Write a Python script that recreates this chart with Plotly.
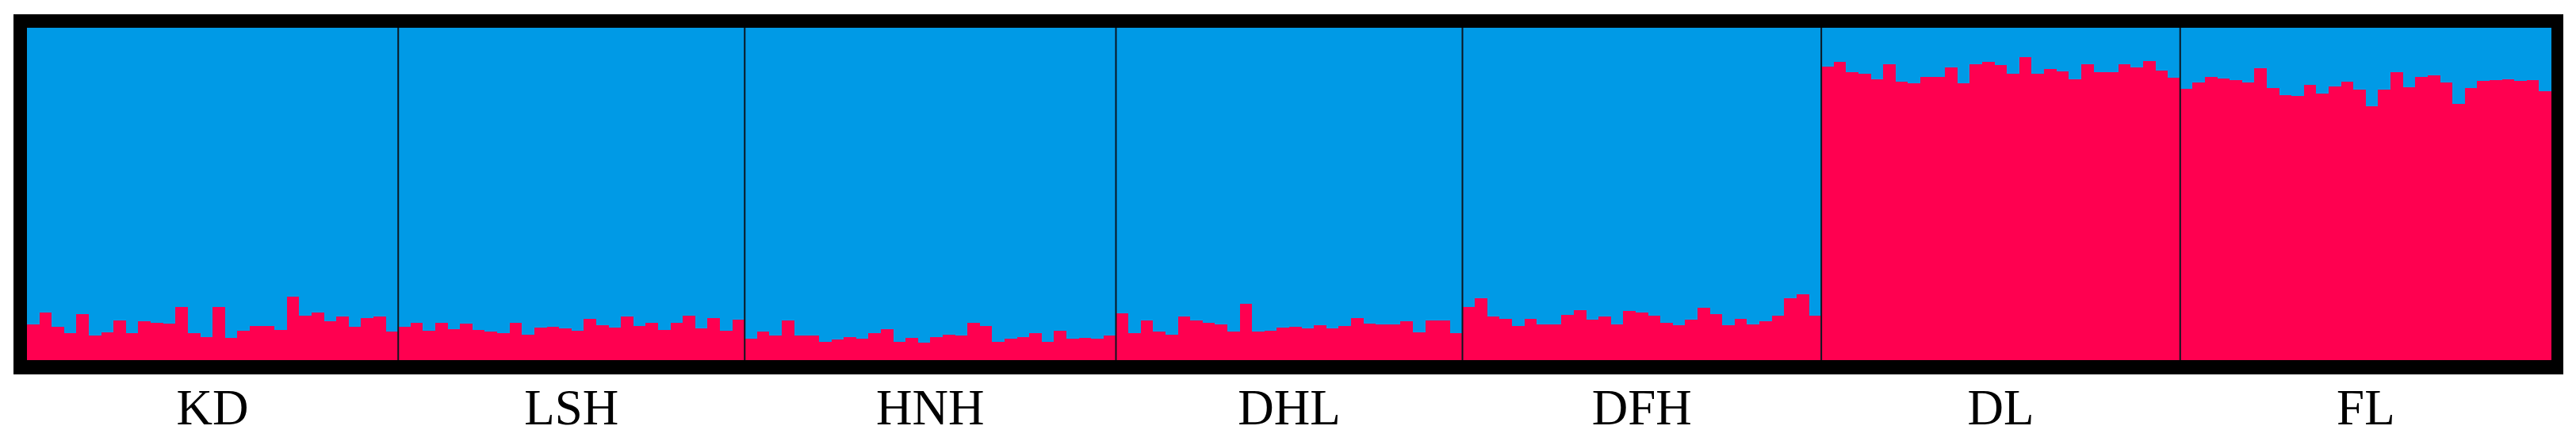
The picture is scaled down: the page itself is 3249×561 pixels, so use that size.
import plotly.graph_objects as go

populations = ["KD", "LSH", "HNH", "DHL", "DFH", "DL", "FL"]

# proportion of cluster 2 (red) per individual
red_KD = [0.107, 0.143, 0.101, 0.080, 0.139, 0.075, 0.083, 0.119, 0.081, 0.117,
          0.113, 0.109, 0.161, 0.081, 0.069, 0.159, 0.067, 0.089, 0.103, 0.103,
          0.091, 0.190, 0.133, 0.143, 0.117, 0.131, 0.101, 0.127, 0.131, 0.085]
red_LSH = [0.101, 0.113, 0.089, 0.111, 0.093, 0.109, 0.091, 0.085, 0.080, 0.113,
           0.077, 0.097, 0.100, 0.095, 0.088, 0.125, 0.105, 0.097, 0.131, 0.103,
           0.111, 0.091, 0.111, 0.133, 0.095, 0.126, 0.089, 0.121]
red_HNH = [0.065, 0.085, 0.075, 0.119, 0.073, 0.073, 0.055, 0.063, 0.070, 0.065,
           0.081, 0.093, 0.056, 0.067, 0.053, 0.069, 0.077, 0.075, 0.111, 0.103,
           0.055, 0.065, 0.070, 0.081, 0.055, 0.089, 0.065, 0.067, 0.065, 0.073]
red_DHL = [0.141, 0.081, 0.119, 0.087, 0.077, 0.131, 0.119, 0.111, 0.107, 0.087,
           0.170, 0.085, 0.088, 0.097, 0.100, 0.095, 0.105, 0.095, 0.103, 0.127,
           0.109, 0.107, 0.108, 0.117, 0.083, 0.119, 0.119, 0.081]
red_DFH = [0.161, 0.186, 0.132, 0.125, 0.103, 0.123, 0.107, 0.108, 0.137, 0.150,
           0.121, 0.131, 0.107, 0.149, 0.143, 0.133, 0.113, 0.105, 0.121, 0.158,
           0.139, 0.105, 0.123, 0.107, 0.117, 0.133, 0.186, 0.199, 0.133]
red_DL = [0.883, 0.897, 0.866, 0.862, 0.845, 0.891, 0.837, 0.833, 0.853, 0.853,
          0.881, 0.833, 0.891, 0.898, 0.889, 0.861, 0.912, 0.862, 0.875, 0.869,
          0.846, 0.891, 0.866, 0.866, 0.891, 0.881, 0.899, 0.871, 0.850]
red_FL = [0.817, 0.835, 0.851, 0.847, 0.843, 0.835, 0.878, 0.819, 0.797, 0.795,
          0.827, 0.803, 0.823, 0.837, 0.813, 0.764, 0.813, 0.866, 0.821, 0.851,
          0.858, 0.835, 0.771, 0.819, 0.841, 0.843, 0.845, 0.841, 0.843, 0.809]

groups = [red_KD, red_LSH, red_HNH, red_DHL, red_DFH, red_DL, red_FL]

RED = "#ff0050"
BLUE = "#009ae6"

red_vals = [v for g in groups for v in g]
blue_vals = [1 - v for v in red_vals]
xs = list(range(len(red_vals)))

counts = [len(g) for g in groups]
starts = []
s = 0
for c in counts:
    starts.append(s)
    s += c
centers = [st + (c - 1) / 2 for st, c in zip(starts, counts)]
n = len(red_vals)

fig = go.Figure()
fig.add_trace(go.Bar(x=xs, y=red_vals, marker=dict(color=RED, line=dict(width=0)),
                     width=1.0, showlegend=False))
fig.add_trace(go.Bar(x=xs, y=blue_vals, marker=dict(color=BLUE, line=dict(width=0)),
                     width=1.0, showlegend=False))

shapes = []
# thick black frame drawn behind the bars
W, H = 3184, 419
shapes.append(dict(type="rect", xref="paper", yref="paper",
                   x0=-17 / W, x1=1 + 15 / W, y0=-18 / H, y1=1 + 17 / H,
                   fillcolor="black", line=dict(width=0), layer="below"))
# population dividers
for st in starts[1:]:
    shapes.append(dict(type="line", xref="x", yref="paper",
                       x0=st - 0.5, x1=st - 0.5, y0=0, y1=1,
                       line=dict(color="#0b1620", width=2), layer="above"))

fig.update_layout(
    width=3233, height=545,
    margin=dict(l=26, r=23, t=27, b=99),
    barmode="stack", bargap=0,
    paper_bgcolor="white", plot_bgcolor="black",
    shapes=shapes,
    xaxis=dict(range=[-0.5, n - 0.5], tickmode="array", tickvals=centers,
               ticktext=populations, showgrid=False, zeroline=False,
               showline=False, ticks="", ticklabelstandoff=17, automargin=False,
               tickfont=dict(family="Times New Roman, Liberation Serif, serif",
                             size=63, color="black")),
    yaxis=dict(range=[0, 1], showticklabels=False, showgrid=False,
               zeroline=False, showline=False, ticks="", automargin=False),
)

fig.write_html("out.html")
